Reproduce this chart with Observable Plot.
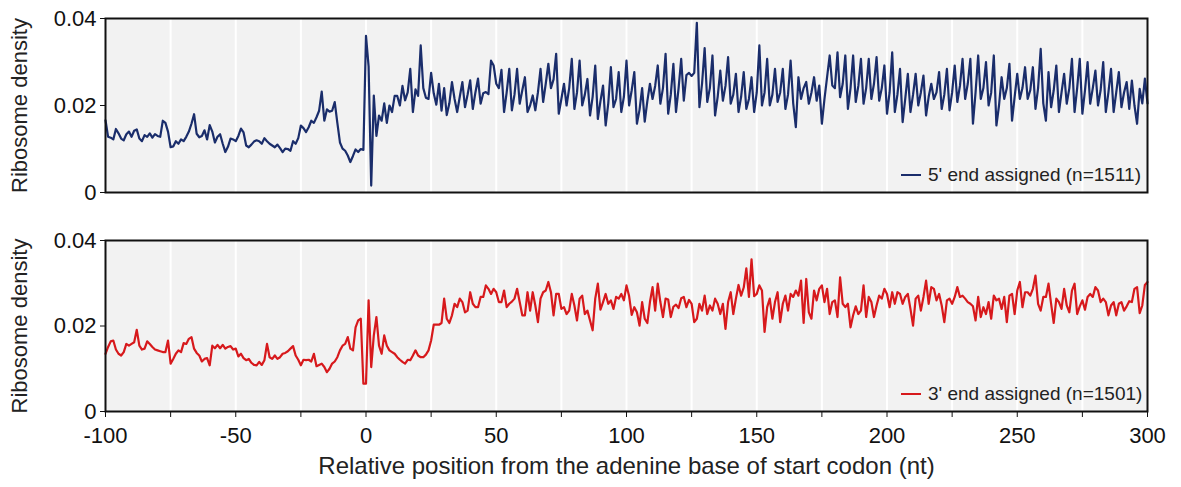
<!DOCTYPE html>
<html><head><meta charset="utf-8">
<script src="https://cdn.jsdelivr.net/npm/d3@7"></script>
<script src="https://cdn.jsdelivr.net/npm/@observablehq/plot@0.6"></script>
<style>
body{margin:0;background:#fff;font-family:"Liberation Sans",Arial,sans-serif;}
#wrap{position:relative;width:1181px;height:487px;}
#wrap svg{display:block;}
.legend{position:absolute;display:flex;align-items:center;font-size:19px;color:#222;white-space:nowrap;line-height:1;}
.legend .sw{display:inline-block;width:20px;height:0;border-top:2.5px solid;margin-right:7px;}
</style></head><body><div id="wrap"></div>
<script>
// positions (nt) from -100 to 300
const startPos = -100, endPos = 300;
const xTicks = [-100,-75,-50,-25,0,25,50,75,100,125,150,175,200,225,250,275,300];
const gridPositions = [-75,-50,-25,0,25,50,75,100,125,150,175,200,225,250,275];
const yTicks = [0, 0.02, 0.04];
const yTickLabels = ["0", "0.02", "0.04"];
const xTitle = "Relative position from the adenine base of start codon (nt)";
const yTitle = "Ribosome density";
const seriesLabels = ["5' end assigned (n=1511)", "3' end assigned (n=1501)"];
const seriesColors = ["#1a2d6b", "#d7191c"];

// ribosome density, in units of 1e-4
const fivePrime = [
166,128,126,122,146,136,124,120,134,140,
128,142,145,124,118,132,128,136,126,134,
130,128,165,160,140,104,106,118,112,122,
118,128,140,158,180,135,127,130,143,122,
155,140,115,128,134,112,93,105,124,122,
118,130,147,138,108,104,110,117,120,118,
112,125,118,112,108,104,110,102,93,101,
100,96,118,112,125,154,148,139,150,165,
160,173,188,232,165,191,186,188,208,160,
115,101,96,85,70,84,99,93,100,98,
360,290,16,223,130,177,165,205,160,200,
185,222,222,200,245,212,230,284,185,237,
222,338,240,218,215,275,228,202,250,188,
240,178,205,254,215,185,220,254,196,225,
258,192,230,262,204,228,231,226,303,292,
250,240,282,185,230,284,189,225,284,204,
235,265,185,200,223,189,230,284,208,250,
296,240,260,319,181,215,250,200,240,307,
192,230,303,200,225,261,177,220,292,169,
210,246,154,205,288,196,215,277,185,220,
303,200,235,277,158,190,240,163,210,250,
215,245,292,204,240,319,181,225,296,185,
240,307,211,270,275,268,275,390,196,250,
332,208,240,315,177,220,280,211,245,311,
204,225,273,185,220,277,192,215,265,185,
230,338,200,230,307,200,225,284,208,230,
284,192,225,303,205,150,265,215,240,254,
204,230,265,211,246,158,215,265,315,246,
240,322,219,250,315,192,240,315,208,245,
307,204,240,307,215,250,311,211,240,292,
181,230,322,185,225,284,162,215,273,185,
225,273,200,230,269,177,220,250,215,230,
277,192,225,284,189,230,292,208,245,307,
215,250,307,158,230,315,215,240,300,200,
230,315,154,200,265,215,240,296,165,220,
273,215,240,288,215,235,288,192,240,330,
205,165,277,196,235,292,185,230,273,204,
240,307,185,240,307,181,235,300,204,240,
280,200,235,300,185,230,284,185,230,277,
196,230,254,192,257,200,158,238,205,262,
205
];
const threePrime = [
135,151,164,166,145,135,131,139,158,154,
158,162,191,154,145,147,164,158,151,145,
143,141,139,139,166,112,123,135,143,139,
160,158,170,174,147,137,131,117,123,125,
108,154,148,156,148,156,147,151,153,145,
147,129,135,125,120,123,114,109,108,116,
109,120,158,127,123,131,123,127,135,137,
141,147,153,131,121,108,121,120,121,117,
135,106,109,112,104,92,100,112,117,127,
143,154,158,174,147,143,197,213,217,65,
65,260,104,178,221,154,135,178,154,143,
139,135,127,121,116,112,121,120,131,143,
131,127,127,133,143,166,203,203,203,207,
264,217,207,225,252,244,264,256,232,236,
279,252,244,244,268,268,295,287,275,287,
279,256,256,283,244,252,257,264,287,256,
225,225,279,236,279,248,209,264,279,283,
303,279,225,275,275,240,244,228,236,275,
248,213,264,271,228,236,213,190,264,299,
238,256,275,252,260,240,268,264,275,260,
295,270,226,244,232,201,256,217,207,256,
291,236,299,256,221,264,262,221,245,250,
242,265,268,244,261,252,209,217,252,236,
271,228,248,236,264,252,228,252,193,256,
279,228,264,296,271,290,335,268,356,270,
275,295,283,186,244,264,217,256,279,209,
252,271,236,275,268,283,271,306,207,310,
232,217,283,260,287,295,256,287,228,256,
260,221,314,252,244,252,197,225,246,228,
236,295,221,268,256,221,248,271,264,287,
275,244,279,252,279,275,252,268,275,240,
201,264,271,236,268,306,252,291,287,260,
275,248,209,260,264,252,268,291,268,271,
264,256,252,246,213,268,221,244,228,256,
217,271,260,264,240,268,209,271,275,228,
283,303,244,279,279,271,287,318,252,236,
268,268,299,252,207,264,256,240,287,248,
232,283,299,228,246,260,238,268,275,268,
291,283,256,264,256,225,248,256,225,252,
256,236,246,258,256,287,291,230,248,296,
303
];

const toRows = arr => arr.map((v, i) => ({pos: startPos + i, density: v / 10000}));
const font = "'Liberation Sans', Arial, sans-serif";
const fmtY = d => yTickLabels[yTicks.indexOf(d)];

function panel(rows, color, withX, opts) {
  const marks = [
    Plot.frame({fill: "#f2f2f2"}),
    Plot.ruleX(gridPositions, {stroke: "#ffffff", strokeWidth: 2}),
    Plot.axisY({ticks: yTicks, tickFormat: fmtY, tickSize: 5, tickPadding: 4, fontSize: 22, label: null, stroke: "#111", color: "#111"}),
    Plot.line(rows, {x: "pos", y: "density", stroke: color, strokeWidth: 2.2, strokeLinejoin: "round"}),
    Plot.frame({stroke: "#111", strokeWidth: 2}),
    Plot.text([yTitle], {frameAnchor: "left", textAnchor: "middle", rotate: -90, dx: -86, fontSize: 22, fill: "#222"})
  ];
  if (withX) {
    marks.push(Plot.axisX({ticks: xTicks, tickFormat: d => (d % 50 === 0 ? String(d) : ""), tickSize: 6, tickPadding: 10, fontSize: 22, label: null, stroke: "#111", color: "#111"}));
    marks.push(Plot.text([xTitle], {frameAnchor: "bottom", dy: 62, fontSize: 24, fill: "#222"}));
  }
  return Plot.plot({
    width: 1181, height: opts.height,
    marginLeft: 105, marginRight: 34, marginTop: opts.mt, marginBottom: opts.mb,
    style: {fontFamily: font, background: "transparent", overflow: "visible"},
    x: {domain: [startPos, endPos], axis: null},
    y: {domain: [0, 0.04], axis: null},
    marks
  });
}

const wrap = document.getElementById("wrap");
wrap.appendChild(panel(toRows(fivePrime), seriesColors[0], false, {height: 215, mt: 18, mb: 23}));
wrap.appendChild(panel(toRows(threePrime), seriesColors[1], true, {height: 272, mt: 25, mb: 76}));

function legend(label, color, top) {
  const d = document.createElement("div");
  d.className = "legend";
  d.style.left = "901px";
  d.style.top = top + "px";
  const sw = document.createElement("span");
  sw.className = "sw";
  sw.style.borderTopColor = color;
  d.appendChild(sw);
  d.appendChild(document.createTextNode(label));
  wrap.appendChild(d);
}
legend(seriesLabels[0], seriesColors[0], 165);
legend(seriesLabels[1], seriesColors[1], 384);
</script></body></html>
